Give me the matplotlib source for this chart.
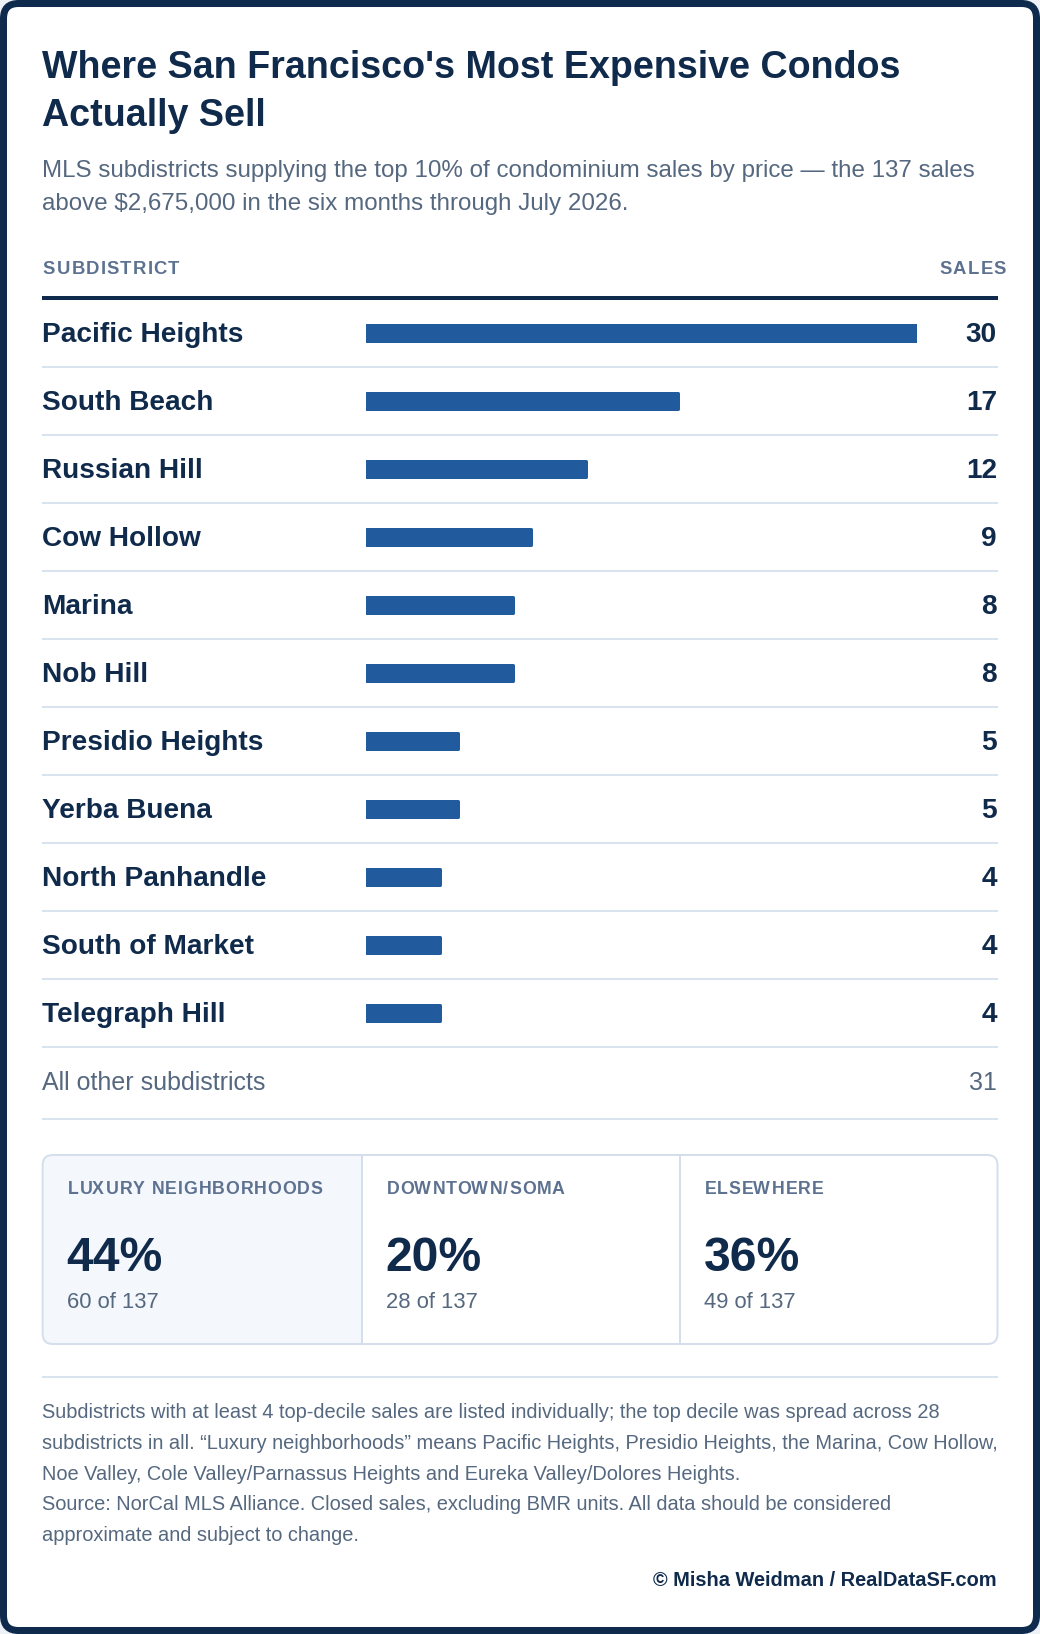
import matplotlib

matplotlib.use("Agg")
import matplotlib.pyplot as plt
from matplotlib import font_manager
from matplotlib.ft2font import FT2Font
from matplotlib.patches import FancyBboxPatch, Rectangle

FONT = "Liberation Sans"
INK = "#0f2a4b"
BORDER = "#0e2b4e"
BAR = "#215b9d"
MUTED = "#55687f"
LABEL = "#5d7290"
RULE = "#d9e3ef"
CARD_EDGE = "#d5dfeb"
CARD_BG = "#f4f7fb"

W, H = 1040, 1634
PT = 0.72   # px -> pt at dpi 100

# data
SUBDISTRICTS = ["Pacific Heights", "South Beach", "Russian Hill", "Cow Hollow", "Marina",
                "Nob Hill", "Presidio Heights", "Yerba Buena", "North Panhandle",
                "South of Market", "Telegraph Hill"]
SALES = [30, 17, 12, 9, 8, 8, 5, 5, 4, 4, 4]
OTHER_LABEL = "All other subdistricts"
OTHER_SALES = 31
TOTAL = 137
GROUPS = ["LUXURY NEIGHBORHOODS", "DOWNTOWN/SOMA", "ELSEWHERE"]
GROUP_SALES = [60, 28, 49]

TITLE = ["Where San Francisco's Most Expensive Condos", "Actually Sell"]
SUBTITLE = ["MLS subdistricts supplying the top 10% of condominium sales by price \u2014 the 137 sales",
            "above $2,675,000 in the six months through July 2026."]
NOTES = ["Subdistricts with at least 4 top-decile sales are listed individually; the top decile was spread across 28",
         "subdistricts in all. \u201cLuxury neighborhoods\u201d means Pacific Heights, Presidio Heights, the Marina, Cow Hollow,",
         "Noe Valley, Cole Valley/Parnassus Heights and Eureka Valley/Dolores Heights.",
         "Source: NorCal MLS Alliance. Closed sales, excluding BMR units. All data should be considered",
         "approximate and subject to change."]
CREDIT = "\u00a9 Misha Weidman / RealDataSF.com"

fig = plt.figure(figsize=(W / 100, H / 100), dpi=100, facecolor="#eef2f7")
ax = fig.add_axes([0, 0, 1, 1])
ax.set_xlim(0, W)
ax.set_ylim(H, 0)
ax.axis("off")


def txt(x, y, s, px, color=INK, weight="normal", ha="left"):
    ax.text(x, y, s, fontsize=px * PT, color=color, fontweight=weight, family=FONT,
            ha=ha, va="baseline")


def spaced(x, y, s, px, spacing, color=LABEL, ha="left"):
    # letter-spaced caps: place glyphs one by one from their advances
    prop = font_manager.FontProperties(family=FONT, weight="bold", size=px * PT)
    ft = FT2Font(font_manager.findfont(prop))
    ft.set_size(px * PT, 100)
    pen, placed = 0.0, []
    for ch in s:
        g = ft.load_char(ord(ch))
        placed.append((ch, pen + g.horiBearingX / 64))
        pen += g.linearHoriAdvance / 65536 + spacing
    total = pen - spacing
    x0 = x - total if ha == "right" else x
    for ch, o in placed:
        if ch != " ":
            ax.text(x0 + o, y, ch, fontproperties=prop, color=color, va="baseline")


# card frame
ax.add_patch(FancyBboxPatch((3.5, 3.5), W - 7, H - 7, boxstyle="round,pad=0,rounding_size=15",
                            fc="white", ec=BORDER, lw=7 * PT, zorder=0))

# title + subtitle
txt(42, 77.5, TITLE[0], 37.6, weight="bold")
txt(42, 125.5, TITLE[1], 37.6, weight="bold")
txt(42, 176.7, SUBTITLE[0], 24.1, color=MUTED)
txt(42, 210, SUBTITLE[1], 24.1, color=MUTED)

# table header
spaced(42, 274.3, "SUBDISTRICT", 18.5, 1.2)
spaced(1005, 274.3, "SALES", 18.5, 1.2, ha="right")
ax.plot([42, 998], [298, 298], color=INK, lw=4 * PT, solid_capstyle="butt")

# rows
ROW0, ROWH = 300, 68
for i, (name, n) in enumerate(zip(SUBDISTRICTS, SALES)):
    base = ROW0 + 42.3 + ROWH * i
    txt(42, base, name, 28, weight="bold")
    txt(997, base, str(n), 28, weight="bold", ha="right")
    sep = ROW0 + ROWH * (i + 1) - 1
    ax.plot([42, 998], [sep, sep], color=RULE, lw=2 * PT, solid_capstyle="butt")

# bars in their own axes: 0..max over the bar track
top = ROW0
bottom = ROW0 + ROWH * len(SALES)
bx = fig.add_axes([366.2 / W, 1 - (bottom - 1) / H, 550.5 / W, (bottom - top) / H])
bx.patch.set_alpha(0)
bx.axis("off")
bx.barh(range(len(SALES)), SALES, height=16.5 / ROWH, color=BAR, edgecolor=BAR,
        linewidth=3 * PT, joinstyle="round")
bx.set_xlim(0, max(SALES))
bx.set_ylim(len(SALES) - 0.5, -0.5)

# all other
txt(42, 1090, OTHER_LABEL, 25, color=MUTED)
txt(997, 1090, str(OTHER_SALES), 25, color=MUTED, ha="right")
ax.plot([42, 998], [1119, 1119], color=RULE, lw=2 * PT, solid_capstyle="butt")

# stat cards
cx = [42.7, 361.5, 679.5, 997.5]
cy0, cy1 = 1155, 1344
ax.add_patch(FancyBboxPatch((cx[0] + 1, cy0 + 1), cx[1] - cx[0] - 1, cy1 - cy0 - 2,
                            boxstyle="round,pad=0,rounding_size=9", fc=CARD_BG, ec="none", zorder=1))
ax.add_patch(Rectangle((cx[1] - 20, cy0 + 1), 20, cy1 - cy0 - 2, fc=CARD_BG, ec="none", zorder=1))
ax.add_patch(FancyBboxPatch((cx[0], cy0), cx[3] - cx[0], cy1 - cy0,
                            boxstyle="round,pad=0,rounding_size=10", fc="none", ec=CARD_EDGE,
                            lw=2 * PT, zorder=2))
for xv in cx[1:3]:
    ax.plot([xv, xv], [cy0, cy1], color=CARD_EDGE, lw=2 * PT, zorder=2)
for i, (lab, n) in enumerate(zip(GROUPS, GROUP_SALES)):
    x0 = cx[i] + 24
    spaced(x0, 1194.3, lab, 17.7, 0.85)
    txt(x0, 1270.7, f"{round(100 * n / TOTAL)}%", 48, weight="bold")
    txt(x0, 1308.3, f"{n} of {TOTAL}", 22, color=MUTED)

# notes
ax.plot([42, 998], [1377, 1377], color=RULE, lw=2 * PT, solid_capstyle="butt")
for i, line in enumerate(NOTES):
    txt(42, 1418.3 + 30.6 * i, line, 20, color=MUTED)
txt(997, 1586, CREDIT, 20, weight="bold", ha="right")

fig.savefig("out.png", dpi=100, facecolor=fig.get_facecolor())
